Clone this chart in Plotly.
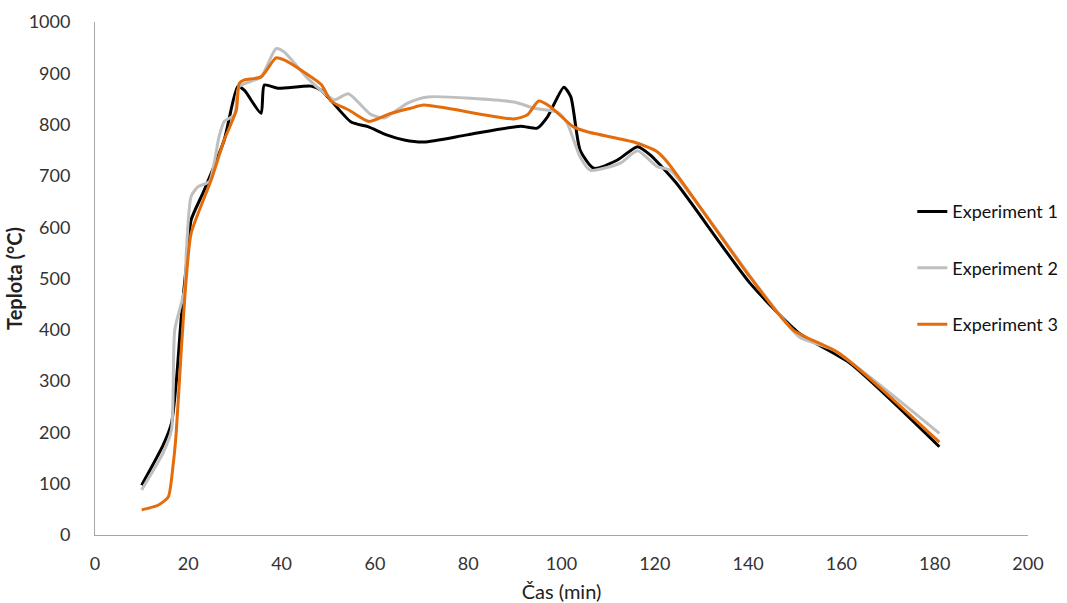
import plotly.graph_objects as go

# Experiment 1
exp1_x = [10, 14.6, 16.4, 17.4, 18.5, 19.9, 20.6, 23.4, 27.7, 30.6, 32, 35.6, 36.3, 39.2, 46.3, 48.5,
          54.9, 58.5, 62.5, 66.3, 70.5, 79.8, 91.2, 94.8, 97, 100.5, 102, 104, 106.9, 112, 116.3, 119,
          124.6, 140.4, 151, 161.8, 181]
exp1_y = [97, 175, 218, 296, 425, 555, 614, 672, 770, 874, 867, 822, 877, 871, 875, 867,
          805, 796, 780, 770, 766, 780, 797, 793, 815, 873, 854, 750, 715, 731, 757, 741,
          686, 491, 393, 335, 172]

# Experiment 2
exp2_x = [10, 14.6, 16.4, 17.1, 19.2, 19.6, 20.6, 22.1, 24.5, 26.6, 27.7, 29.9, 30.9, 35.6, 38.8, 40.5,
          45.6, 49.2, 51.3, 54.3, 59.1, 62, 67, 71.3, 89.8, 94.1, 99.2, 101.2, 104, 106.2, 112.6, 116.3,
          120.5, 123.3, 142.6, 151, 158.2, 181]
exp2_y = [88, 160, 205, 400, 478, 555, 660, 679, 689, 777, 806, 819, 874, 893, 948, 942,
          890, 861, 848, 860, 820, 813, 842, 854, 844, 832, 824, 803, 737, 711, 725, 749,
          718, 711, 478, 386, 361, 198]

# Experiment 3
exp3_x = [10, 13.5, 15.7, 16.7, 17.4, 18.5, 19.6, 20.6, 24.9, 27.7, 30.3, 30.9, 32, 35.6, 38.8, 40.5,
          44.2, 48.5, 50.6, 54.5, 58.8, 63.4, 67.7, 70.5, 89.8, 92.7, 95.1, 97.6, 102.5, 105.5, 115.5,
          119, 120.5, 122.6, 140.4, 149.6, 159.6, 181]
exp3_y = [49, 58, 74, 133, 198, 361, 504, 588, 692, 770, 828, 880, 887, 893, 930, 926,
          906, 878, 846, 828, 806, 822, 832, 838, 811, 819, 846, 835, 796, 786, 766,
          754, 747, 728, 503, 400, 354, 181]

x_ticks = [0, 20, 40, 60, 80, 100, 120, 140, 160, 180, 200]
y_ticks = [0, 100, 200, 300, 400, 500, 600, 700, 800, 900, 1000]

FONT = "Lato, Open Sans, sans-serif"

fig = go.Figure()
series = [
    ("Experiment 1", exp1_x, exp1_y, "#000000"),
    ("Experiment 2", exp2_x, exp2_y, "#BFBFBF"),
    ("Experiment 3", exp3_x, exp3_y, "#E46C0A"),
]
for name, xs, ys, col in series:
    fig.add_trace(go.Scatter(
        x=xs, y=ys, mode="lines", name=name, legendgroup=name,
        line=dict(color=col, width=3, shape="spline", smoothing=0.6),
    ))

fig.update_layout(
    width=1067, height=603,
    paper_bgcolor="white", plot_bgcolor="white",
    margin=dict(l=95, r=39, t=22, b=68, autoexpand=False),
    font=dict(family=FONT, size=18, color="#333333"),
    legend=dict(
        x=0.876, y=0.52, xanchor="left", yanchor="middle",
        font=dict(family=FONT, size=18, color="#111111"),
        tracegroupgap=30, bgcolor="rgba(0,0,0,0)", itemwidth=30,
    ),
    xaxis=dict(
        range=[0, 200], tickvals=x_ticks, showgrid=False, zeroline=False,
        showline=True, linecolor="#A6A6A6", linewidth=1, ticks="",
        ticklabelstandoff=12,
        tickfont=dict(family=FONT, size=18, color="#333333"),
        title=dict(text="Čas (min)", font=dict(family=FONT, size=20, color="#222222"), standoff=14),
    ),
    yaxis=dict(
        range=[0, 1000], tickvals=y_ticks, showgrid=False, zeroline=False,
        showline=True, linecolor="#A6A6A6", linewidth=1, ticks="",
        ticklabelstandoff=20,
        tickfont=dict(family=FONT, size=18, color="#333333"),
        title=dict(text="<b>Teplota (°C)</b>", font=dict(family=FONT, size=20, color="#222222"), standoff=0),
    ),
)

fig.write_html("out.html")
